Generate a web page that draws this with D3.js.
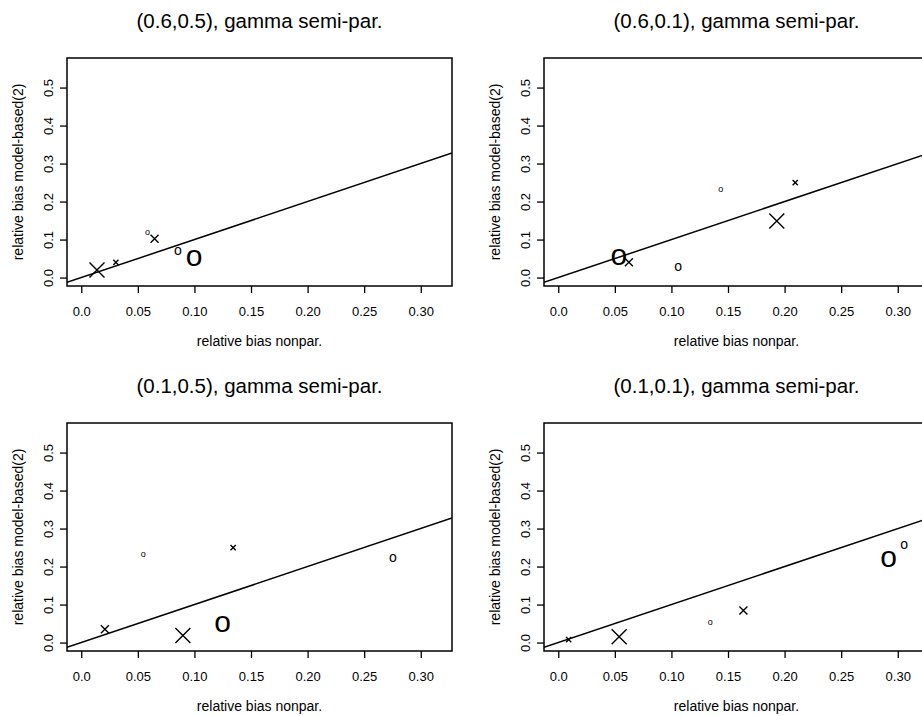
<!DOCTYPE html>
<html>
<head>
<meta charset="utf-8">
<script src="https://cdn.jsdelivr.net/npm/d3@7"></script>
<style>
  body { margin: 0; background: #fff; }
  svg { display: block; font-family: "Liberation Sans", Arial, Helvetica, sans-serif; }
</style>
</head>
<body>
<script>
// chart values
const panelTitles = ["(0.6,0.5), gamma semi-par.", "(0.6,0.1), gamma semi-par.",
                     "(0.1,0.5), gamma semi-par.", "(0.1,0.1), gamma semi-par."]
const xTicks = [0, 0.05, 0.10, 0.15, 0.20, 0.25, 0.30]
const xTickLabels = ["0.0", "0.05", "0.10", "0.15", "0.20", "0.25", "0.30"]
const yTicks = [0, 0.1, 0.2, 0.3, 0.4, 0.5]
const yTickLabels = ["0.0", "0.1", "0.2", "0.3", "0.4", "0.5"]
const xLabel = "relative bias nonpar."
const yLabel = "relative bias model-based(2)"

// per panel: bias nonpar (x), bias model-based (y), symbol and its size class
const biasNonpar = [
    [0.0139, 0.0306, 0.0648, 0.0586, 0.0854, 0.0998],
    [0.0535, 0.0624, 0.106, 0.1435, 0.2094, 0.1931],
    [0.0209, 0.0898, 0.1248, 0.0548, 0.1342, 0.2753],
    [0.0092, 0.0538, 0.1344, 0.1636, 0.2918, 0.3056]
]
const biasModel = [
    [0.020, 0.040, 0.102, 0.117, 0.070, 0.051],
    [0.054, 0.040, 0.028, 0.2326, 0.250, 0.149],
    [0.0353, 0.0184, 0.0484, 0.2316, 0.250, 0.2219],
    [0.0079, 0.0150, 0.0526, 0.0842, 0.2192, 0.2553]
]
const symbol = [
    ["x", "x", "x", "o", "o", "o"],
    ["o", "x", "o", "o", "x", "x"],
    ["x", "x", "o", "o", "x", "o"],
    ["x", "x", "o", "x", "o", "o"]
]
const sizeClass = [
    [3, 1, 2, 1, 2, 3],
    [3, 2, 2, 1, 1, 3],
    [2, 3, 3, 1, 1, 2],
    [1, 3, 1, 2, 3, 2]
]

const width = 922, height = 716
const boxW = 385, boxH = 228
const lefts = [67, 544], tops = [58, 423]
const crossHalf = {1: 2.6, 2: 4, 3: 7.5}
const oFont = {1: 9, 2: 14, 3: 30}

const svg = d3.select("body").append("svg")
    .attr("width", width)
    .attr("height", height)

panelTitles.forEach((title, p) => {
    let left = lefts[p % 2]
    let top = tops[Math.floor(p / 2)]
    let g = svg.append("g").attr("transform", `translate(${left},${top})`)

    let x = d3.scaleLinear().domain([-0.0126, 0.3276]).range([0, boxW])
    let y = d3.scaleLinear().domain([-0.0222, 0.5778]).range([boxH, 0])

    // x axis
    let xa = g.append("g")
        .attr("transform", `translate(0,${boxH})`)
        .call(d3.axisBottom(x).tickValues(xTicks)
            .tickFormat((d, i) => xTickLabels[i]).tickSize(7).tickPadding(14))
    xa.select(".domain").remove()
    xa.selectAll("text").attr("font-size", 13).attr("font-family", null)
    xa.selectAll("line").attr("stroke-width", 1.3)

    // y axis, labels turned like base R
    let ya = g.append("g")
        .call(d3.axisLeft(y).tickValues(yTicks)
            .tickFormat((d, i) => yTickLabels[i]).tickSize(7))
    ya.select(".domain").remove()
    ya.selectAll("line").attr("stroke-width", 1.3)
    ya.selectAll("text")
        .attr("font-size", 13).attr("font-family", null)
        .attr("x", null).attr("dy", null)
        .attr("text-anchor", "middle")
        .attr("transform", "translate(-14.5,0) rotate(-90)")

    // y = x line, clipped to box
    let clipId = "clip" + p
    g.append("clipPath").attr("id", clipId)
        .append("rect").attr("width", boxW).attr("height", boxH)
    g.append("line")
        .attr("clip-path", `url(#${clipId})`)
        .attr("x1", x(-0.0126)).attr("y1", y(-0.0126))
        .attr("x2", x(0.3276)).attr("y2", y(0.3276))
        .attr("stroke", "#000").attr("stroke-width", 1.5)

    // points
    let pts = biasNonpar[p].map((v, i) => ({x: v, y: biasModel[p][i], s: symbol[p][i], c: sizeClass[p][i]}))
    g.selectAll(".ox").data(pts.filter(d => d.s === "o")).join("text")
        .attr("x", d => x(d.x))
        .attr("y", d => y(d.y) + 0.265 * oFont[d.c])
        .attr("text-anchor", "middle")
        .attr("font-size", d => oFont[d.c])
        .attr("fill", "#000")
        .text("o")
    g.selectAll(".xx").data(pts.filter(d => d.s === "x")).join("path")
        .attr("transform", d => `translate(${x(d.x)},${y(d.y)})`)
        .attr("d", d => {
            let h = crossHalf[d.c]
            return `M${-h},${-h}L${h},${h}M${-h},${h}L${h},${-h}`
        })
        .attr("stroke", "#000").attr("stroke-width", 1.4).attr("fill", "none")

    // box
    g.append("rect")
        .attr("width", boxW).attr("height", boxH)
        .attr("fill", "none").attr("stroke", "#000").attr("stroke-width", 1.5)

    // titles and axis labels
    g.append("text")
        .attr("x", boxW / 2).attr("y", -30)
        .attr("text-anchor", "middle").attr("font-size", 20.5)
        .text(title)
    g.append("text")
        .attr("x", boxW / 2).attr("y", boxH + 60)
        .attr("text-anchor", "middle").attr("font-size", 14)
        .text(xLabel)
    g.append("text")
        .attr("transform", `translate(-44,${boxH / 2}) rotate(-90)`)
        .attr("text-anchor", "middle").attr("font-size", 14)
        .text(yLabel)
})
</script>
</body>
</html>
